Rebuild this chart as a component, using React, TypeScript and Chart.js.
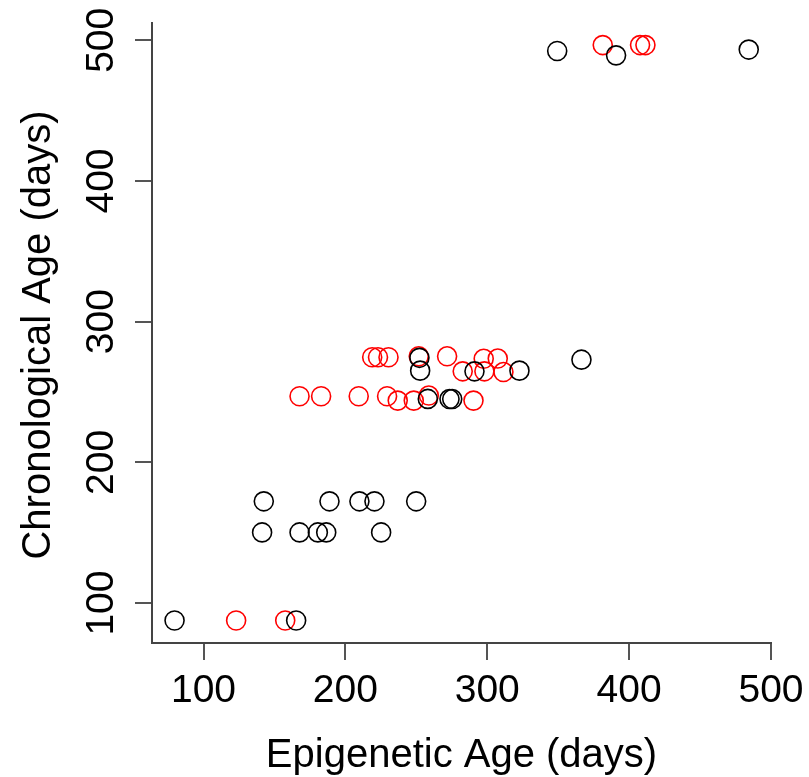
import React, { useEffect, useRef } from "react";
import { Chart, registerables } from "chart.js";

Chart.register(...registerables);

// Black series (epigenetic age, chronological age)
const blackX = [79.6, 165.3, 142.5, 188.8, 209.9, 220.5, 249.9, 141.3, 167.7, 180.6, 186.5, 225.2, 258.1, 273.4, 275.3, 252.7, 291.0, 322.7, 252.2, 366.4, 349.3, 390.8, 484.3];
const blackY = [87.6, 87.6, 172.3, 172.3, 172.3, 172.3, 172.3, 150.2, 150.2, 150.2, 150.2, 150.2, 245.1, 245.0, 245.0, 265.2, 264.7, 265.2, 274.3, 273.0, 492.4, 489.3, 493.4];

// Red series
const redX = [123.0, 157.6, 167.7, 182.9, 209.4, 229.4, 258.8, 236.9, 248.2, 290.3, 282.7, 298.0, 311.4, 218.9, 223.0, 230.4, 251.7, 271.7, 297.5, 307.4, 381.4, 407.7, 411.5];
const redY = [87.6, 87.6, 247.0, 247.0, 247.0, 247.0, 247.5, 243.9, 243.9, 243.9, 264.7, 264.7, 264.2, 274.7, 274.7, 274.7, 275.4, 275.4, 273.6, 273.8, 496.6, 496.6, 496.6];

const xTicks = [100, 200, 300, 400, 500];
const yTicks = [100, 200, 300, 400, 500];

const xTitle = "Epigenetic Age (days)";
const yTitle = "Chronological Age (days)";

const FONT = "'Liberation Sans', Arial, Helvetica, sans-serif";

const labelPlugin = {
  id: "rLabels",
  afterDraw(chart: any) {
    const ctx = chart.ctx;
    const xs = chart.scales.x;
    const ys = chart.scales.y;
    const area = chart.chartArea;
    ctx.save();
    ctx.fillStyle = "#000";
    // x tick labels
    ctx.font = `39px ${FONT}`;
    ctx.textAlign = "center";
    ctx.textBaseline = "alphabetic";
    xTicks.forEach((v) => {
      ctx.fillText(String(v), xs.getPixelForValue(v), 702);
    });
    // y tick labels (rotated)
    yTicks.forEach((v) => {
      ctx.save();
      ctx.translate(113, ys.getPixelForValue(v));
      ctx.rotate(-Math.PI / 2);
      ctx.fillText(String(v), 0, 0);
      ctx.restore();
    });
    // titles
    ctx.font = `40px ${FONT}`;
    ctx.fillText(xTitle, (area.left + area.right) / 2, 767);
    ctx.save();
    ctx.translate(50, (area.top + area.bottom) / 2 + 2);
    ctx.rotate(-Math.PI / 2);
    ctx.fillText(yTitle, 0, 0);
    ctx.restore();
    ctx.restore();
  },
};

export default function App() {
  const ref = useRef<HTMLCanvasElement | null>(null);
  useEffect(() => {
    if (!ref.current) return;
    const toPts = (xs: number[], ys: number[]) => xs.map((x, i) => ({ x, y: ys[i] }));
    const chart = new Chart(ref.current, {
      type: "scatter",
      data: {
        datasets: [
          {
            label: "black",
            data: toPts(blackX, blackY),
            borderColor: "#000000",
            backgroundColor: "rgba(0,0,0,0)",
            pointRadius: 9.5,
            pointBorderWidth: 1.6,
            pointHoverRadius: 9.5,
          },
          {
            label: "red",
            data: toPts(redX, redY),
            borderColor: "#ff0000",
            backgroundColor: "rgba(0,0,0,0)",
            pointRadius: 9.5,
            pointBorderWidth: 1.6,
            pointHoverRadius: 9.5,
          },
        ],
      },
      options: {
        responsive: false,
        animation: false,
        events: [],
        layout: { padding: { left: 0, top: 23, right: 38, bottom: 0 } },
        plugins: { legend: { display: false }, tooltip: { enabled: false } },
        scales: {
          x: {
            type: "linear",
            min: 63.7,
            max: 500,
            afterBuildTicks: (s: any) => {
              s.ticks = xTicks.map((v) => ({ value: v }));
            },
            afterFit: (s: any) => {
              s.height = 134;
            },
            ticks: { display: false },
            grid: {
              display: true,
              drawOnChartArea: false,
              drawTicks: true,
              tickLength: 17,
              color: "#555",
              lineWidth: 2,
            },
            border: { display: true, color: "#444", width: 2 },
          },
          y: {
            type: "linear",
            min: 71.6,
            max: 512.3,
            afterBuildTicks: (s: any) => {
              s.ticks = yTicks.map((v) => ({ value: v }));
            },
            afterFit: (s: any) => {
              s.width = 152;
            },
            ticks: { display: false },
            grid: {
              display: true,
              drawOnChartArea: false,
              drawTicks: true,
              tickLength: 17,
              color: "#555",
              lineWidth: 2,
            },
            border: { display: true, color: "#444", width: 2 },
          },
        },
      },
      plugins: [labelPlugin],
    });
    return () => chart.destroy();
  }, []);
  return (
    <div style={{ position: "fixed", left: 0, top: 0, width: 809, height: 777, background: "#fff" }}>
      <canvas ref={ref} width={809} height={777} style={{ display: "block" }} />
    </div>
  );
}
